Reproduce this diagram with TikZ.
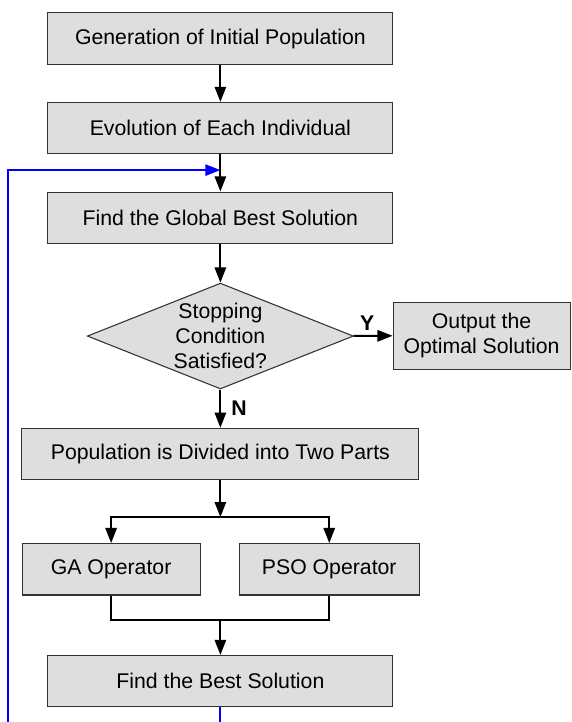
\documentclass[tikz,border=0pt]{standalone}
\usepackage{fontspec}
\setmainfont{Liberation Sans}
\usetikzlibrary{shapes.geometric,arrows.meta,positioning,calc}
\definecolor{boxgray}{RGB}{222,222,222}
\definecolor{edgegray}{RGB}{50,50,50}

\begin{document}
\begin{tikzpicture}[
    font=\fontsize{16}{19}\selectfont,
    stage/.style={rectangle,draw=edgegray,line width=0.8pt,fill=boxgray,minimum height=1.36cm,inner sep=0pt,align=center},
    test/.style={diamond,draw=edgegray,line width=0.8pt,fill=boxgray,minimum width=7.04cm,minimum height=2.8cm,inner sep=0pt},
    flow/.style={line width=1.4pt,-{Triangle[length=4mm,width=3mm]}},
    link/.style={line width=1.4pt},
    loopback/.style={blue,line width=1.4pt,-{Triangle[length=4mm,width=3mm]}},
    answer/.style={font=\fontsize{16}{19}\selectfont\bfseries}]
    \useasboundingbox (0,0) rectangle (15.11,-19.10);
    \clip (0,0) rectangle (15.11,-19.10);

    % Stages
    \node[stage,minimum width=9.13cm] (init) at (5.83,-1.02) {Generation of Initial Population};
    \node[stage,minimum width=9.13cm] (evolve) at (5.83,-3.39) {Evolution of Each Individual};
    \node[stage,minimum width=9.13cm] (global) at (5.83,-5.76) {Find the Global Best Solution};
    \node[test,label={[align=center]center:Stopping\\Condition\\Satisfied?}] (stop) at (5.83,-8.89) {};
    \node[stage,minimum width=4.68cm,minimum height=1.77cm] (output) at (12.74,-8.88) {Output the\\Optimal Solution};
    \node[stage,minimum width=10.50cm] (divide) at (5.83,-12.01) {Population is Divided into Two Parts};
    \node[stage,minimum width=4.71cm] (ga) at (2.94,-15.06) {GA Operator};
    \node[stage,minimum width=4.76cm] (pso) at (8.71,-15.06) {PSO Operator};
    \node[stage,minimum width=9.13cm] (best) at (5.83,-18.02) {Find the Best Solution};

    % Junctions
    \coordinate (entry) at (5.83,-4.50);
    \coordinate (split) at (5.83,-13.68);
    \coordinate (join) at (5.83,-16.41);
    \coordinate (corner) at (0.21,-19.60);

    % Main flow
    \draw[flow] (init) -- (evolve);
    \draw[flow] (evolve) -- (global);
    \draw[flow] (global) -- (stop);
    \draw[flow] (stop) -- node[answer,above,pos=0.35] (yes) {Y} (output);
    \draw[flow] (stop) -- node[answer,right=1.5mm] (no) {N} (divide);

    % Split and merge
    \draw[flow] (divide) -- (split);
    \draw[flow] (split) -| (ga);
    \draw[flow] (split) -| (pso);
    \draw[link] (ga) |- (join);
    \draw[link] (pso) |- (join);
    \draw[flow] (join) -- (best);

    % Back to the loop
    \draw[loopback] (best) |- (corner) |- (entry);
\end{tikzpicture}
\end{document}
